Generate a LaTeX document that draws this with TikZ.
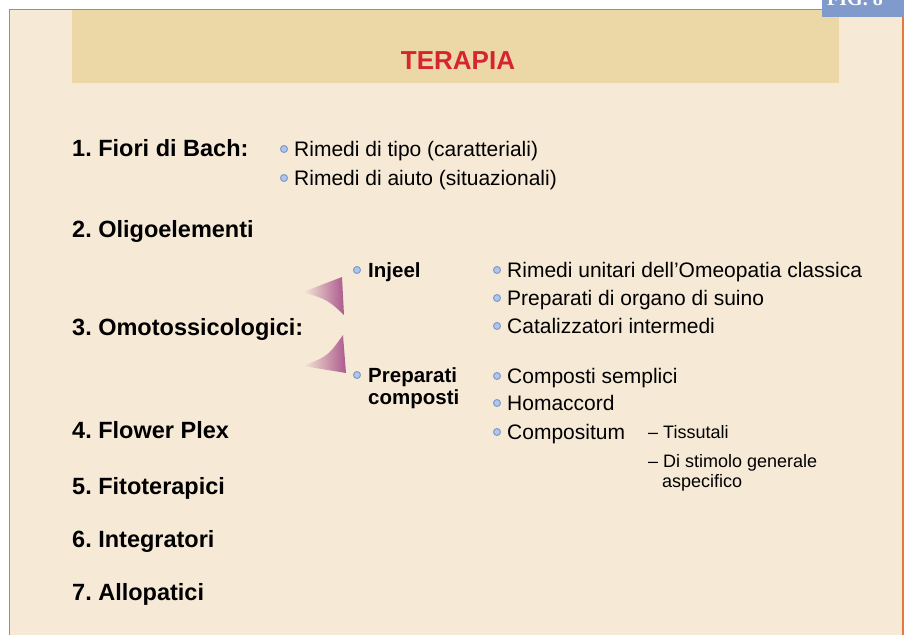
\documentclass[tikz,border=0pt]{standalone}
\usepackage{fontspec}
\setmainfont{Liberation Sans}
\newfontfamily\figfont{Liberation Serif}
\usepackage{tikz}
\usetikzlibrary{arrows,shapes,positioning}
\definecolor{rosso}{RGB}{214,36,48}
\definecolor{panna}{RGB}{246,233,214}
\definecolor{sabbia}{RGB}{235,216,166}
\definecolor{arancio}{RGB}{232,120,56}
\definecolor{azzurro}{RGB}{128,154,204}
\definecolor{celeste}{RGB}{176,198,232}
\definecolor{viola}{RGB}{172,90,142}
\frenchspacing

\begin{document}
\begin{tikzpicture}[x=1pt, y=-1pt,
                    voce/.style = {
                      anchor=base west, inner sep=0,
                      font=\fontsize{23.5}{28}\selectfont\bfseries
                    },
                    punto/.style = {
                      circle, inner sep=0, minimum size=7pt,
                      fill=celeste, draw=azzurro, line width=1pt
                    },
                    testo/.style = {
                      anchor=base west, inner sep=0,
                      font=\fontsize{21}{25}\selectfont
                    },
                    gruppo/.style = {
                      anchor=base west, inner sep=0, align=left,
                      font=\fontsize{20.5}{22}\selectfont\bfseries
                    },
                    nota/.style = {
                      anchor=base west, inner sep=0, align=left,
                      font=\fontsize{18}{20}\selectfont
                    },
                    cuneo/.style = {
                      left color=panna, right color=viola
                    }]
    \clip (0,0) rectangle (909,634);
    \fill[white] (0,0) rectangle (909,634);
    \path[fill=panna, draw=arancio, line width=1.5pt]
      (9.5,650) -- (9.5,9.5) -- (903,9.5) -- (903,650);

    \node(testata)[fill=sabbia, anchor=north west, inner sep=0,
                   minimum width=767pt, minimum height=73pt] at (72,10) {};
    \node(titolo)[anchor=base, inner sep=0, text=rosso,
                  font=\fontsize{26}{30}\selectfont\bfseries] at (458,69) {TERAPIA};
    \node(fig)[fill=azzurro, anchor=north west, inner sep=0,
               minimum width=82pt, minimum height=16.5pt] at (822,0) {}
        node[anchor=base west, inner sep=0, text=white,
             font=\figfont\fontsize{20}{24}\selectfont\bfseries] at (827,6) {FIG. 8};

    \node(bach)[voce] at (72,156) {1. Fiori di Bach:};
    \node(oligo)[voce] at (72,237) {2. Oligoelementi};
    \node(omoto)[voce] at (72,335) {3. Omotossicologici:};
    \node(flower)[voce] at (72,438) {4. Flower Plex};
    \node(fito)[voce] at (72,494) {5. Fitoterapici};
    \node(integr)[voce] at (72,547) {6. Integratori};
    \node(allop)[voce] at (72,600) {7. Allopatici};

    \node(p1)[punto] at (284,149) {}
        node(tipo)[testo] at (294,156) {Rimedi di tipo (caratteriali)};
    \node(p2)[punto] at (284,178) {}
        node(aiuto)[testo] at (294,185) {Rimedi di aiuto (situazionali)};

    \path[cuneo] (303,292) -- (342,277)
      -- (344,315) .. controls (328,300) .. (303,292) -- cycle;
    \path[cuneo] (303,366) .. controls (328,356) .. (343,335)
      -- (346,373) -- (303,366) -- cycle;

    \node(p3)[punto] at (357,270) {}
        node(injeel)[gruppo] at (368,277) {Injeel};
    \node(p4)[punto] at (357,375) {}
        node(preparati)[gruppo] at (368,404) {Preparati\\composti};

    \node(p5)[punto] at (497,270) {}
        node(unitari)[testo] at (507,277) {Rimedi unitari dell’Omeopatia classica};
    \node(p6)[punto] at (497,298) {}
        node(organo)[testo] at (507,305) {Preparati di organo di suino};
    \node(p7)[punto] at (497,326) {}
        node(catal)[testo] at (507,333) {Catalizzatori intermedi};
    \node(p8)[punto] at (497,376) {}
        node(semplici)[testo] at (507,383) {Composti semplici};
    \node(p9)[punto] at (497,403) {}
        node(homac)[testo] at (507,410) {Homaccord};
    \node(p10)[punto] at (497,432) {}
        node(compos)[testo] at (507,439) {Compositum};

    \node(tissut)[nota] at (648,438.5) {– Tissutali};
    \node(stimolo)[nota] at (648,467.5) {– Di stimolo generale};
    \node(aspec)[nota] at (662,487.5) {aspecifico};
  \end{tikzpicture}
\end{document}
